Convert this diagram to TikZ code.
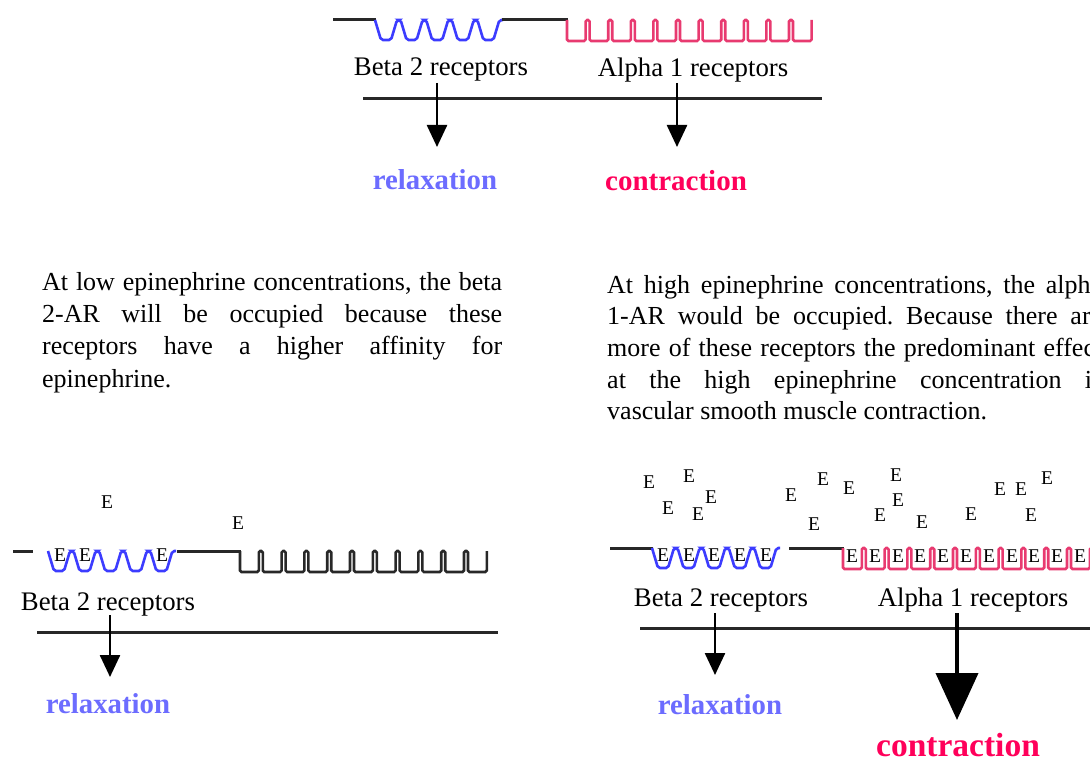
\documentclass[tikz,border=0pt]{standalone}
\usepackage{fontspec}
\setmainfont{Liberation Serif}
\usetikzlibrary{arrows.meta}
\definecolor{wblue}{RGB}{60,60,255}
\definecolor{wred}{RGB}{232,58,112}
\definecolor{relaxblue}{RGB}{108,108,255}
\definecolor{contrred}{RGB}{255,0,90}
\definecolor{membr}{RGB}{40,40,40}
\tikzset{
  lbl/.style={font=\fontsize{26.8}{30}\selectfont, inner sep=0pt},
  ee/.style={font=\fontsize{19.5}{20}\selectfont, inner sep=0pt},
  relax/.style={font=\bfseries\fontsize{28.8}{30}\selectfont, text=relaxblue, inner sep=0pt},
  contr/.style={font=\bfseries\fontsize{29}{30}\selectfont, text=contrred, inner sep=0pt},
  bigcontr/.style={contr, font=\bfseries\fontsize{33.5}{34}\selectfont},
  para/.style={inner sep=0pt, align=left},
  membrane/.style={line width=3pt, draw=membr},
  arr/.style={line width=2.5pt, -{Triangle[width=20pt,length=22pt]}},
  bigarr/.style={line width=4pt, -{Triangle[width=42pt,length=47pt]}},
  bwavel/.style={line width=2.6pt, draw=wblue, rounded corners=2pt},
  swavel/.style={line width=2.6pt, rounded corners=1.5pt},
}
\newcommand\bwave[2]{\draw[bwavel] (#1,#2) \foreach \k in {1,...,5}{ -- ++(6,20) -- ++(10,0) -- ++(6,-20) -- ++(3.6,0)};}
\newcommand\swave[5]{\draw[swavel,draw=#5] (#1,#2) -- ++(0,21) \foreach \k in {1,...,#3}{ -- ++(#4-4,0) -- ++(0,-21) -- ++(4,0) -- ++(0,21)} -- ++(#4-4,0) -- ++(0,-21);}
\begin{document}
\frenchspacing
\begin{tikzpicture}[x=1pt,y=-1pt]
\useasboundingbox (0,0) rectangle (1090,757);
\fill[white] (0,0) rectangle (1090,757);
\clip (0,0) rectangle (1090,757);

% ---------- top panel ----------
\draw[membrane] (333,20) -- (376,20);
\bwave{375}{20}
\draw[membrane] (502,20) -- (568,20);
\swave{567}{20}{10}{22.6}{wred}
\node[lbl] (tb2) at (441,69) {Beta 2 receptors};
\node[lbl] (ta1) at (693,70) {Alpha 1 receptors};
\draw[membrane] (363,99) -- (822,99);
\node[relax] (trel) at (435,180) {relaxation};
\node[contr] (tcon) at (676,181) {contraction};
\coordinate (t1s) at (437,83);
\coordinate (t1e) at (437,147);
\coordinate (t2s) at (677,83);
\coordinate (t2e) at (677,147);
\draw[arr] (t1s) -- (t1e);
\draw[arr] (t2s) -- (t2e);

% ---------- paragraphs ----------
\node[para, anchor=north west, font=\fontsize{26}{32.3}\selectfont] (plow) at (42,272) {%
\makebox[460pt][s]{At low epinephrine concentrations, the beta}\\
\makebox[460pt][s]{2-AR will be occupied because these}\\
\makebox[460pt][s]{receptors have a higher affinity for}\\
epinephrine.};
\node[para, anchor=north west, font=\fontsize{26}{31.6}\selectfont] (phigh) at (607,275) {%
\makebox[495pt][s]{At high epinephrine concentrations, the alpha}\\
\makebox[495pt][s]{1-AR would be occupied. Because there are}\\
\makebox[495pt][s]{more of these receptors the predominant effect}\\
\makebox[495pt][s]{at the high epinephrine concentration is}\\
vascular smooth muscle contraction.};

% ---------- bottom left panel ----------
\draw[membrane] (13,551) -- (33,551);
\bwave{48}{551}
\draw[membrane] (177,551) -- (241,551);
\swave{240}{551}{10}{22.8}{membr}
\node[ee] (bl1) at (60,555) {E};
\node[ee] (bl2) at (85,555) {E};
\node[ee] (bl3) at (162,555) {E};
\node[ee] (bl4) at (107,502) {E};
\node[ee] (bl5) at (238,523) {E};
\node[lbl] (bb2) at (108,604) {Beta 2 receptors};
\draw[membrane] (37,632) -- (498,632);
\node[relax] (brel) at (108,704) {relaxation};
\coordinate (b1s) at (110,615);
\coordinate (b1e) at (110,677);
\draw[arr] (b1s) -- (b1e);

% ---------- bottom right panel ----------
\draw[membrane] (610,548) -- (653,548);
\bwave{652}{548}
\draw[membrane] (789,548) -- (844,548);
\swave{843}{548}{12}{22.8}{wred}
\foreach \x [count=\i] in {663,689,714,740,766}
  \node[ee] (rb\i) at (\x,555) {E};
\foreach \x [count=\i] in {852,875,898,920,943,966,989,1012,1034,1057,1080}
  \node[ee] (ra\i) at (\x,556) {E};
\foreach \x/\y [count=\i] in {649/482,689/476,668/508,711/497,698/514,791/495,823/479,849/488,814/524,896/475,898/500,880/515,922/522,971/514,1000/489,1021/489,1047/478,1031/515}
  \node[ee] (rf\i) at (\x,\y) {E};
\node[lbl] (rb2) at (721,600) {Beta 2 receptors};
\node[lbl] (ra1) at (973,600) {Alpha 1 receptors};
\draw[membrane] (640,628) -- (1100,628);
\node[relax] (rrel) at (720,705) {relaxation};
\node[bigcontr] (rcon) at (958,745) {contraction};
\coordinate (r1s) at (715,613);
\coordinate (r1e) at (715,675);
\coordinate (r2s) at (957,613);
\coordinate (r2e) at (957,720);
\draw[arr] (r1s) -- (r1e);
\draw[bigarr] (r2s) -- (r2e);
\end{tikzpicture}
\end{document}
